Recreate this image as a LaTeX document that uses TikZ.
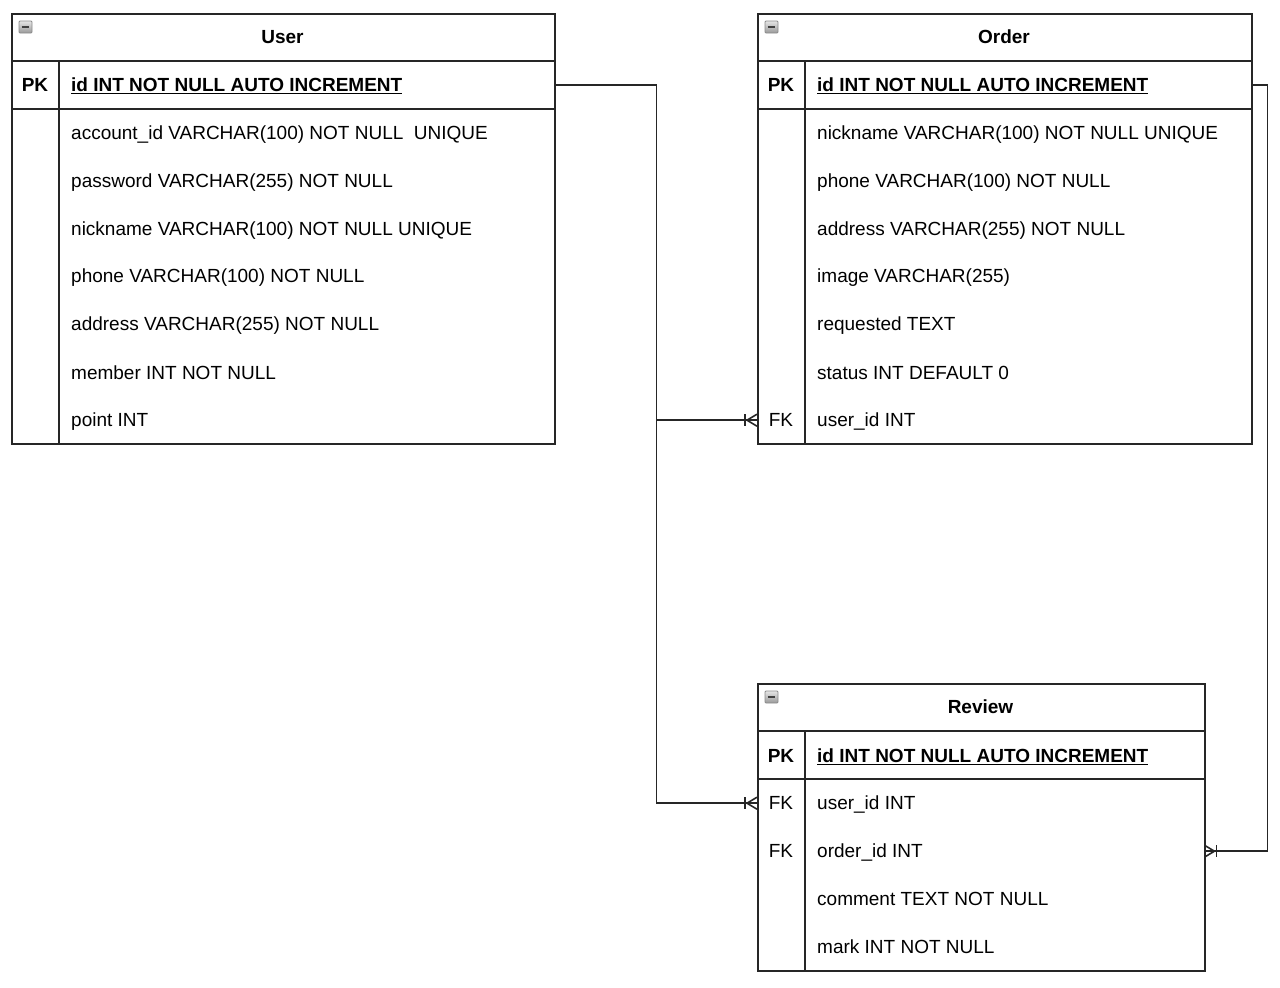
\documentclass[tikz,border=0pt]{standalone}
\usepackage{fontspec}
\setmainfont{Liberation Sans}
\begin{document}
\begin{tikzpicture}[x=1pt,y=-1pt,
  tbl/.style={draw=black!85, line width=1.6pt, fill=white, inner sep=0pt, anchor=north west},
  sepline/.style={draw=black!85, line width=1.6pt},
  hdr/.style={font=\bfseries\fontsize{19}{22}\selectfont, inner sep=0pt, text height=13.6pt, text depth=0pt},
  field/.style={font=\fontsize{19}{22}\selectfont, inner sep=0pt, anchor=west, text height=13.6pt, text depth=0pt},
  keytxt/.style={font=\fontsize{19}{22}\selectfont, inner sep=0pt, text height=13.6pt, text depth=0pt},
  pkey/.style={keytxt, font=\bfseries\fontsize{19}{22}\selectfont},
  pfield/.style={field, font=\bfseries\fontsize{19}{22}\selectfont},
  rowarea/.style={inner sep=0pt, anchor=north west, minimum height=48pt},
  conn/.style={draw=black!85, line width=1.6pt},
  icon/.style={draw=black!45, line width=0.8pt, top color=black!10, bottom color=black!40, minimum width=13pt, minimum height=12pt, inner sep=0pt, rounded corners=1pt,
    path picture={\draw[black!75, line width=1.7pt] ([xshift=-3.8pt]path picture bounding box.center) -- ([xshift=3.8pt]path picture bounding box.center);}},
  pics/many/.style={code={
    \draw[conn] (0,-6) -- (-10,0) -- (0,6);
    \draw[conn] (-12,-6) -- (-12,6);
  }}
]
\useasboundingbox (0,0) rectangle (1280,988);

% ---------- User ----------
\node[tbl, minimum width=543pt, minimum height=430pt] (user) at (11,13) {};
\draw[sepline] (11,61) -- (554,61);
\draw[sepline] (11,109) -- (554,109);
\draw[sepline] (59,61) -- (59,443);
\node[icon] (uicon) at (25.5,27) {};
\node[hdr] (utitle) at (282.5,37) {User};
\node[rowarea, minimum width=543pt] (upk) at (11,61) {};
\node[pkey] (upklbl) at (35,85) {PK};
\node[pfield] (upkf) at (71,85) {\underline{id INT NOT NULL AUTO INCREMENT}};
\node[field] (u1) at (71,133) {account\_id VARCHAR(100) NOT NULL \ UNIQUE};
\node[field] (u2) at (71,181) {password VARCHAR(255) NOT NULL};
\node[field] (u3) at (71,229) {nickname VARCHAR(100) NOT NULL UNIQUE};
\node[field] (u4) at (71,276) {phone VARCHAR(100) NOT NULL};
\node[field] (u5) at (71,324) {address VARCHAR(255) NOT NULL};
\node[field] (u6) at (71,373) {member INT NOT NULL};
\node[field] (u7) at (71,420) {point INT};

% ---------- Order ----------
\node[tbl, minimum width=494pt, minimum height=430pt] (order) at (757,13) {};
\draw[sepline] (757,61) -- (1251,61);
\draw[sepline] (757,109) -- (1251,109);
\draw[sepline] (805,61) -- (805,443);
\node[icon] (oicon) at (771.5,27) {};
\node[hdr] (otitle) at (1004,37) {Order};
\node[rowarea, minimum width=494pt] (opk) at (757,61) {};
\node[pkey] (opklbl) at (781,85) {PK};
\node[pfield] (opkf) at (817,85) {\underline{id INT NOT NULL AUTO INCREMENT}};
\node[field] (o1) at (817,133) {nickname VARCHAR(100) NOT NULL UNIQUE};
\node[field] (o2) at (817,181) {phone VARCHAR(100) NOT NULL};
\node[field] (o3) at (817,229) {address VARCHAR(255) NOT NULL};
\node[field] (o4) at (817,276) {image VARCHAR(255)};
\node[field] (o5) at (817,324) {requested TEXT};
\node[field] (o6) at (817,373) {status INT DEFAULT 0};
\node[rowarea, minimum width=494pt] (ofk) at (757,396) {};
\node[keytxt] (ofklbl) at (781,420) {FK};
\node[field] (o7) at (817,420) {user\_id INT};

% ---------- Review ----------
\node[tbl, minimum width=447pt, minimum height=287pt] (review) at (757,683) {};
\draw[sepline] (757,731) -- (1204,731);
\draw[sepline] (757,779) -- (1204,779);
\draw[sepline] (805,731) -- (805,970);
\node[icon] (ricon) at (771.5,697) {};
\node[hdr] (rtitle) at (980.5,707) {Review};
\node[pkey] (rpklbl) at (781,756) {PK};
\node[pfield] (rpkf) at (817,756) {\underline{id INT NOT NULL AUTO INCREMENT}};
\node[rowarea, minimum width=447pt] (rfk1) at (757,779) {};
\node[keytxt] (rfk1lbl) at (781,803) {FK};
\node[field] (r1) at (817,803) {user\_id INT};
\node[rowarea, minimum width=447pt] (rfk2) at (757,827) {};
\node[keytxt] (rfk2lbl) at (781,851) {FK};
\node[field] (r2) at (817,851) {order\_id INT};
\node[field] (r3) at (817,899) {comment TEXT NOT NULL};
\node[field] (r4) at (817,947) {mark INT NOT NULL};

% ---------- Connectors ----------
\draw[conn] (upk.east) -- ++(102,0) |- (ofk.west);
\draw[conn] (upk.east) -- ++(102,0) |- (rfk1.west);
\draw[conn] (opk.east) -- ++(16,0) |- (rfk2.east);
\pic at (ofk.west) {many};
\pic at (rfk1.west) {many};
\pic[xscale=-1] at (rfk2.east) {many};
\end{tikzpicture}
\end{document}
